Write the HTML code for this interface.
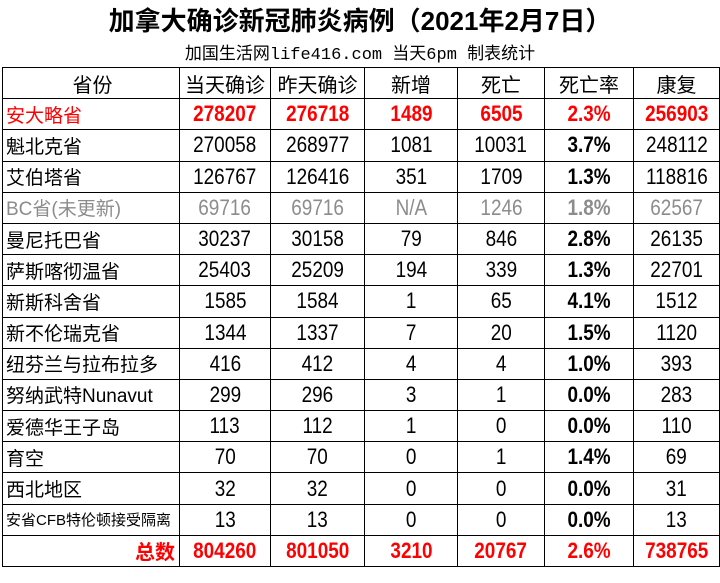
<!DOCTYPE html>
<html><head><meta charset="utf-8"><style>
body{margin:0;width:720px;height:583px;background:#fff;position:relative;overflow:hidden;font-family:"Liberation Sans","Noto Sans CJK SC",sans-serif}
.t{position:absolute;left:0;top:1px;width:720px;text-align:center;font-weight:bold;font-size:26px;color:#000}
.s{position:absolute;left:0;top:39px;width:720px;text-align:center;font-size:17px;font-family:"Liberation Mono","Noto Sans CJK SC",monospace}
table{position:absolute;left:2px;top:67px;border-collapse:collapse;table-layout:fixed;width:717px}
td{border:1.6px solid #000;height:29.6px;padding:0;text-align:center;font-size:22px;white-space:nowrap;overflow:hidden}
td span{display:inline-block;transform:scaleX(0.86)}
tr{height:31.2px}
td:first-child{text-align:left;padding-left:3px;font-size:19px}
tr.h td{font-size:20px;font-family:"Noto Sans CJK SC",sans-serif}
tr.h td:first-child{text-align:center}
tr.r td{color:#f00;font-weight:bold}
tr.g td{color:#8c8c8c}
td.b{font-weight:bold}
tr.tot td:first-child{text-align:right;padding-right:4px;font-size:20px}
</style></head><body>
<div class="t">加拿大确诊新冠肺炎病例（2021年2月7日）</div>
<div class="s">加国生活网life416.com 当天6pm 制表统计</div>
<table>
<colgroup><col style="width:177px"><col style="width:91px"><col style="width:94px"><col style="width:93px"><col style="width:87px"><col style="width:89px"><col style="width:86px"></colgroup>
<tr class="h"><td>省份</td><td>当天确诊</td><td>昨天确诊</td><td>新增</td><td>死亡</td><td>死亡率</td><td>康复</td></tr>
<tr class="r"><td style="font-weight:normal">安大略省</td><td><span>278207</span></td><td><span>276718</span></td><td><span>1489</span></td><td><span>6505</span></td><td><span>2.3%</span></td><td><span>256903</span></td></tr>
<tr><td>魁北克省</td><td><span>270058</span></td><td><span>268977</span></td><td><span>1081</span></td><td><span>10031</span></td><td class="b"><span>3.7%</span></td><td><span>248112</span></td></tr>
<tr><td>艾伯塔省</td><td><span>126767</span></td><td><span>126416</span></td><td><span>351</span></td><td><span>1709</span></td><td class="b"><span>1.3%</span></td><td><span>118816</span></td></tr>
<tr class="g"><td>BC省(未更新)</td><td><span>69716</span></td><td><span>69716</span></td><td><span>N/A</span></td><td><span>1246</span></td><td class="b"><span>1.8%</span></td><td><span>62567</span></td></tr>
<tr><td>曼尼托巴省</td><td><span>30237</span></td><td><span>30158</span></td><td><span>79</span></td><td><span>846</span></td><td class="b"><span>2.8%</span></td><td><span>26135</span></td></tr>
<tr><td>萨斯喀彻温省</td><td><span>25403</span></td><td><span>25209</span></td><td><span>194</span></td><td><span>339</span></td><td class="b"><span>1.3%</span></td><td><span>22701</span></td></tr>
<tr><td>新斯科舍省</td><td><span>1585</span></td><td><span>1584</span></td><td><span>1</span></td><td><span>65</span></td><td class="b"><span>4.1%</span></td><td><span>1512</span></td></tr>
<tr><td>新不伦瑞克省</td><td><span>1344</span></td><td><span>1337</span></td><td><span>7</span></td><td><span>20</span></td><td class="b"><span>1.5%</span></td><td><span>1120</span></td></tr>
<tr><td>纽芬兰与拉布拉多</td><td><span>416</span></td><td><span>412</span></td><td><span>4</span></td><td><span>4</span></td><td class="b"><span>1.0%</span></td><td><span>393</span></td></tr>
<tr><td>努纳武特Nunavut</td><td><span>299</span></td><td><span>296</span></td><td><span>3</span></td><td><span>1</span></td><td class="b"><span>0.0%</span></td><td><span>283</span></td></tr>
<tr><td>爱德华王子岛</td><td><span>113</span></td><td><span>112</span></td><td><span>1</span></td><td><span>0</span></td><td class="b"><span>0.0%</span></td><td><span>110</span></td></tr>
<tr><td>育空</td><td><span>70</span></td><td><span>70</span></td><td><span>0</span></td><td><span>1</span></td><td class="b"><span>1.4%</span></td><td><span>69</span></td></tr>
<tr><td>西北地区</td><td><span>32</span></td><td><span>32</span></td><td><span>0</span></td><td><span>0</span></td><td class="b"><span>0.0%</span></td><td><span>31</span></td></tr>
<tr><td style="font-size:15px">安省CFB特伦顿接受隔离</td><td><span>13</span></td><td><span>13</span></td><td><span>0</span></td><td><span>0</span></td><td class="b"><span>0.0%</span></td><td><span>13</span></td></tr>
<tr class="r tot"><td>总数</td><td><span>804260</span></td><td><span>801050</span></td><td><span>3210</span></td><td><span>20767</span></td><td><span>2.6%</span></td><td><span>738765</span></td></tr>
</table>
</body></html>
